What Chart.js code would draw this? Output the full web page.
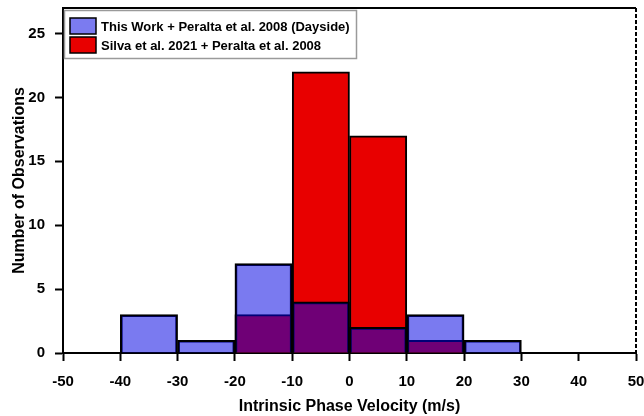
<!DOCTYPE html>
<html>
<head>
<meta charset="utf-8">
<script src="https://cdn.jsdelivr.net/npm/chart.js@4"></script>
<style>
  html, body { margin: 0; padding: 0; background: #fff; }
  #wrap { width: 644px; height: 416px; }
</style>
</head>
<body>
<div id="wrap"><canvas id="c" width="644" height="416"></canvas></div>
<script>
// Histogram bins of intrinsic phase velocity (m/s), 10 m/s wide
const binCenters = [-45, -35, -25, -15, -5, 5, 15, 25, 35, 45];
const thisWorkCounts = [0, 3, 1, 7, 4, 2, 3, 1, 0, 0];
const silvaCounts = [0, 0, 0, 3, 22, 17, 1, 0, 0, 0];
const seriesLabels = [
  'This Work + Peralta et al. 2008 (Dayside)',
  'Silva et al. 2021 + Peralta et al. 2008'
];
const xTicks = [-50, -40, -30, -20, -10, 0, 10, 20, 30, 40, 50];
const yTicks = [0, 5, 10, 15, 20, 25];

const BLUE = 'rgba(0,0,226,0.52)';
const RED = 'rgb(232,0,0)';
const FONT = 'Liberation Sans, Arial, sans-serif';

const toPoints = (counts) => binCenters.map((x, i) => ({ x, y: counts[i] }));

// Frame on the top and right, and the boxed legend in the upper left
const framePlugin = {
  id: 'frame',
  afterDatasetsDraw(chart) {
    const { ctx, chartArea: a } = chart;
    ctx.save();
    ctx.strokeStyle = '#000';
    ctx.lineWidth = 2;
    ctx.beginPath();
    ctx.moveTo(a.left, a.top);
    ctx.lineTo(a.right, a.top);
    ctx.stroke();
    ctx.setLineDash([4, 2]);
    ctx.beginPath();
    ctx.moveTo(a.right, a.top);
    ctx.lineTo(a.right, a.bottom);
    ctx.stroke();
    ctx.restore();
  },
  afterDraw(chart) {
    const { ctx, chartArea: a } = chart;
    const x0 = a.left + 1, y0 = a.top + 2, w = 292, h = 48;
    ctx.save();
    ctx.fillStyle = '#fff';
    ctx.fillRect(x0, y0, w, h);
    ctx.strokeStyle = '#9a9a9a';
    ctx.lineWidth = 1.5;
    ctx.strokeRect(x0 + 0.5, y0 + 0.5, w, h);
    const fills = ['rgb(123,123,240)', RED];
    ctx.font = 'bold 13px ' + FONT;
    ctx.textBaseline = 'middle';
    chart.data.datasets.forEach((ds, i) => {
      const sy = y0 + 8 + i * 19;
      ctx.fillStyle = fills[i];
      ctx.fillRect(x0 + 6, sy, 26, 16);
      ctx.strokeStyle = '#000';
      ctx.lineWidth = 1.5;
      ctx.strokeRect(x0 + 6, sy, 26, 16);
      ctx.fillStyle = '#000';
      ctx.fillText(ds.label, x0 + 37, sy + 9);
    });
    ctx.restore();
  }
};

new Chart(document.getElementById('c'), {
  type: 'bar',
  data: {
    datasets: [
      {
        label: seriesLabels[0],
        data: toPoints(thisWorkCounts),
        backgroundColor: BLUE,
        borderColor: '#000',
        borderWidth: 2
      },
      {
        label: seriesLabels[1],
        data: toPoints(silvaCounts),
        backgroundColor: RED,
        borderColor: '#000',
        borderWidth: 2
      }
    ]
  },
  options: {
    responsive: false,
    animation: false,
    devicePixelRatio: 1,
    grouped: false,
    barPercentage: 1,
    categoryPercentage: 1,
    layout: { padding: { top: 8, right: 8, left: 10, bottom: 0 } },
    plugins: {
      legend: { display: false },
      tooltip: { enabled: false }
    },
    scales: {
      x: {
        type: 'linear',
        offset: false,
        min: -50,
        max: 50,
        afterBuildTicks: (axis) => { axis.ticks = xTicks.map(v => ({ value: v })); },
        afterFit: (axis) => {
          axis.height = 63;
          axis.paddingLeft = 0;
          axis.paddingRight = 0;
        },
        grid: { offset: false, drawOnChartArea: false, drawTicks: true, tickLength: 8, tickWidth: 2, color: '#000' },
        border: { display: true, color: '#000', width: 2 },
        ticks: {
          color: '#000',
          padding: 12,
          maxRotation: 0,
          font: { family: FONT, size: 15, weight: 'bold' }
        },
        title: {
          display: true,
          text: 'Intrinsic Phase Velocity (m/s)',
          color: '#000',
          padding: { top: 4, bottom: 0 },
          font: { family: FONT, size: 16, weight: 'bold' }
        }
      },
      y: {
        min: 0,
        max: 27,
        afterBuildTicks: (axis) => { axis.ticks = yTicks.map(v => ({ value: v })); },
        afterFit: (axis) => {
          axis.width = 53;
          axis.paddingTop = 0;
          axis.paddingBottom = 0;
        },
        grid: { drawOnChartArea: false, drawTicks: true, tickLength: 8, tickWidth: 2, color: '#000' },
        border: { display: true, color: '#000', width: 2 },
        ticks: {
          color: '#000',
          padding: 10,
          font: { family: FONT, size: 15, weight: 'bold' }
        },
        title: {
          display: true,
          text: 'Number of Observations',
          color: '#000',
          padding: { top: 0, bottom: 4 },
          font: { family: FONT, size: 16, weight: 'bold' }
        }
      }
    }
  },
  plugins: [framePlugin]
});
</script>
</body>
</html>
